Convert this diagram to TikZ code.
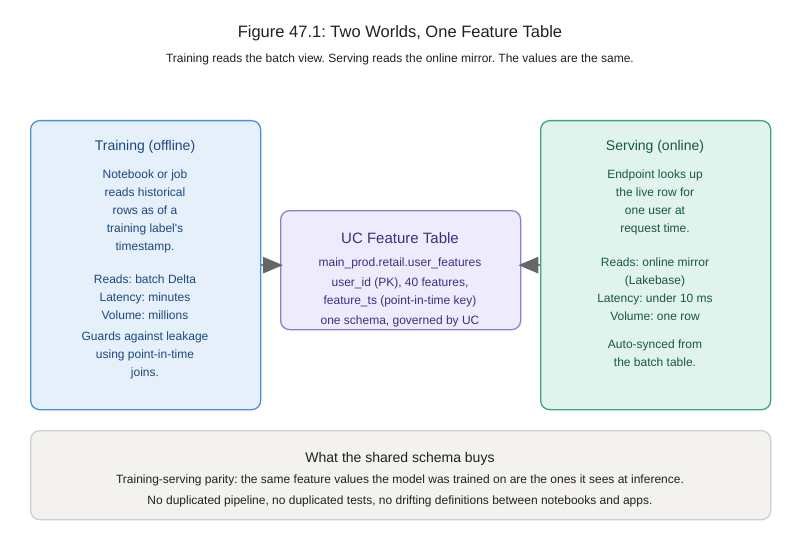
\documentclass[tikz,border=0pt]{standalone}
\usepackage{fontspec}
\setmainfont{Liberation Sans}
\frenchspacing
\usetikzlibrary{arrows.meta}
\definecolor{trainfill}{RGB}{230,240,250}
\definecolor{trainedge}{RGB}{74,144,217}
\definecolor{traink}{RGB}{28,72,128}
\definecolor{tablefill}{RGB}{238,236,252}
\definecolor{tableedge}{RGB}{140,126,214}
\definecolor{tablek}{RGB}{58,48,128}
\definecolor{servefill}{RGB}{224,243,236}
\definecolor{serveedge}{RGB}{62,164,124}
\definecolor{servek}{RGB}{24,88,64}
\definecolor{notefill}{RGB}{243,242,238}
\definecolor{noteedge}{RGB}{206,206,204}
\colorlet{ink}{black!87}
\colorlet{arrowgray}{black!60}
\tikzset{
  panel/.style={rounded corners=9pt,line width=1.3pt,anchor=north west,inner sep=0pt},
  trainbox/.style={panel,draw=trainedge,fill=trainfill},
  tablebox/.style={panel,draw=tableedge,fill=tablefill},
  servebox/.style={panel,draw=serveedge,fill=servefill},
  notebox/.style={panel,draw=noteedge,fill=notefill},
  head/.style={font=\fontsize{14}{17}\selectfont},
  body/.style={align=center,inner sep=0pt,font=\fontsize{12}{18}\selectfont},
  small/.style={align=center,inner sep=0pt,font=\fontsize{12}{21}\selectfont},
  feed/.style={line width=2.6pt,shorten >=-3pt,
    -{Triangle[length=20pt,width=16pt,color=arrowgray,fill=arrowgray]}}
}

\begin{document}
\begin{tikzpicture}[x=1pt,y=-1pt]
  \useasboundingbox[fill=white] (0,0) rectangle (800,540);
  % heading
  \node[ink,font=\fontsize{16.5}{20}\selectfont] (title) at (400,33) {Figure 47.1: Two Worlds, One Feature Table};
  \node[ink,small] (subtitle) at (400,59) {Training reads the batch view. Serving reads the online mirror. The values are the same.};

  % the three panels
  \node[trainbox,minimum width=230pt,minimum height=289pt] (train) at (30,120) {};
  \node[tablebox,minimum width=240pt,minimum height=119pt] (table) at (280,210) {};
  \node[servebox,minimum width=230pt,minimum height=289pt] (serve) at (540,120) {};

  \node[traink,head] (traintitle) at (145,147) {Training (offline)};
  \node[traink,body] (trainwhat) at (145,211) {Notebook or job\\reads historical\\rows as of a\\training label\textquotesingle s\\timestamp.};
  \node[traink,body] (trainstats) at (145,297.5) {Reads: batch Delta\\Latency: minutes\\Volume: millions};
  \node[traink,body] (trainguard) at (145,355) {Guards against leakage\\using point-in-time\\joins.};

  \node[tablek,font=\fontsize{15}{18}\selectfont] (tabletitle) at (400,238) {UC Feature Table};
  \node[tablek,body] (tablename) at (400,263) {main\_prod.retail.user\_features};
  \node[tablek,body] (tablekeys) at (400,292) {user\_id (PK), 40 features,\\feature\_ts (point-in-time key)};
  \node[tablek,body] (tablegov) at (400,321) {one schema, governed by UC};

  \node[servek,head] (servetitle) at (655,147) {Serving (online)};
  \node[servek,body] (servewhat) at (655,202) {Endpoint looks up\\the live row for\\one user at\\request time.};
  \node[servek,body] (servestats) at (655,289) {Reads: online mirror\\(Lakebase)\\Latency: under 10 ms\\Volume: one row};
  \node[servek,body] (servesync) at (655,353.5) {Auto-synced from\\the batch table.};

  % both sides read the same table
  \draw[feed,trainedge] (train.east) -- (train.east -| table.west);
  \draw[feed,serveedge] (serve.west) -- (serve.west -| table.east);

  % bottom note
  \node[notebox,minimum width=740pt,minimum height=89pt] (note) at (30,430) {};
  \node[ink,head] (notetitle) at (400,458.5) {What the shared schema buys};
  \node[ink,small] (notetext) at (400,490.5) {Training-serving parity: the same feature values the model was trained on are the ones it sees at inference.\\No duplicated pipeline, no duplicated tests, no drifting definitions between notebooks and apps.};
\end{tikzpicture}
\end{document}
